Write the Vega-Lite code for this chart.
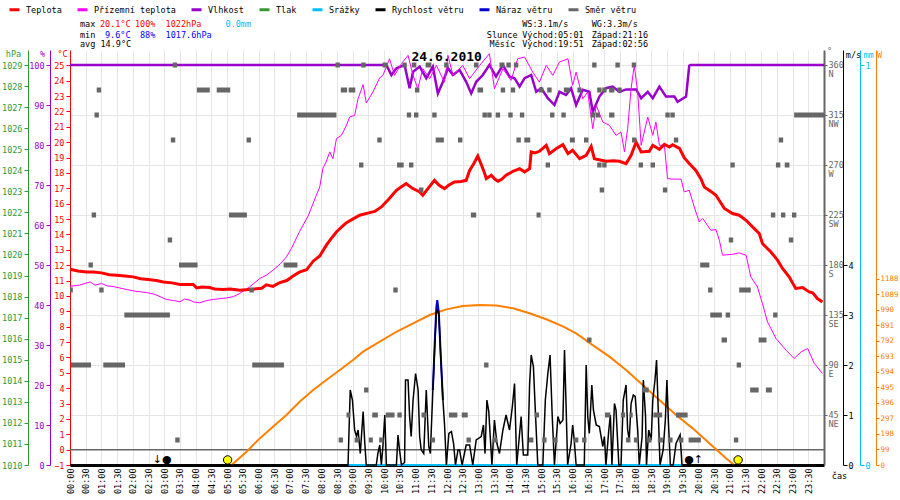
{
  "$schema": "https://vega.github.io/schema/vega-lite/v6.json",
  "width": 754,
  "height": 415,
  "autosize": "none",
  "padding": {"left": 70, "top": 50, "right": 76, "bottom": 35},
  "background": "white",
  "view": {"stroke": null},
  "config": {
    "font": "DejaVu Sans Mono",
    "axis": {"labelFont": "DejaVu Sans Mono", "labelFontSize": 8.5, "titleFont": "DejaVu Sans Mono", "titleFontSize": 8.5, "titleFontWeight": "normal", "tickSize": 4, "grid": false, "labelPadding": 2},
    "legend": {"orient": "none", "legendX": -62, "legendY": -47, "direction": "horizontal", "columns": 8, "symbolType": "stroke", "symbolStrokeWidth": 3, "symbolSize": 100, "labelFont": "DejaVu Sans Mono", "labelFontSize": 8.5, "labelColor": "black", "columnPadding": 9, "labelOffset": 5},
    "text": {"font": "DejaVu Sans Mono", "fontSize": 8.5}
  },
  "datasets": {
    "temp": [
      {"t":0,"c":11.74},{"t":0.25,"c":11.62},{"t":0.53,"c":11.56},{"t":0.75,"c":11.55},{"t":1.0,"c":11.5},{"t":1.25,"c":11.38},{"t":1.48,"c":11.35},{"t":1.75,"c":11.3},{"t":2.01,"c":11.24},{"t":2.25,"c":11.12},{"t":2.49,"c":11.07},{"t":2.75,"c":11.0},{"t":2.97,"c":10.91},{"t":3.25,"c":10.85},{"t":3.5,"c":10.74},{"t":3.92,"c":10.74},{"t":4.03,"c":10.52},{"t":4.2,"c":10.58},{"t":4.45,"c":10.55},{"t":4.6,"c":10.45},{"t":4.87,"c":10.42},{"t":5.1,"c":10.45},{"t":5.41,"c":10.37},{"t":5.6,"c":10.4},{"t":5.83,"c":10.44},{"t":6.1,"c":10.5},{"t":6.25,"c":10.72},{"t":6.46,"c":10.62},{"t":6.68,"c":10.87},{"t":6.9,"c":11.0},{"t":7.1,"c":11.3},{"t":7.3,"c":11.55},{"t":7.53,"c":11.7},{"t":7.74,"c":12.26},{"t":7.95,"c":12.6},{"t":8.16,"c":13.3},{"t":8.3,"c":13.7},{"t":8.48,"c":14.16},{"t":8.65,"c":14.5},{"t":8.8,"c":14.77},{"t":9.0,"c":15.0},{"t":9.22,"c":15.25},{"t":9.54,"c":15.42},{"t":9.7,"c":15.5},{"t":9.91,"c":15.79},{"t":10.15,"c":16.3},{"t":10.39,"c":16.87},{"t":10.55,"c":17.1},{"t":10.7,"c":17.31},{"t":10.9,"c":17.0},{"t":11.13,"c":16.77},{"t":11.23,"c":16.55},{"t":11.4,"c":17.0},{"t":11.6,"c":17.52},{"t":11.75,"c":17.2},{"t":11.92,"c":16.98},{"t":12.05,"c":17.2},{"t":12.24,"c":17.41},{"t":12.45,"c":17.45},{"t":12.61,"c":17.52},{"t":12.72,"c":18.17},{"t":12.85,"c":18.6},{"t":12.98,"c":19.1},{"t":13.1,"c":18.5},{"t":13.2,"c":17.96},{"t":13.25,"c":17.63},{"t":13.41,"c":17.85},{"t":13.52,"c":17.6},{"t":13.62,"c":17.46},{"t":13.75,"c":17.6},{"t":13.88,"c":17.85},{"t":14.1,"c":18.11},{"t":14.31,"c":18.28},{"t":14.47,"c":18.07},{"t":14.63,"c":18.28},{"t":14.68,"c":19.37},{"t":14.8,"c":19.3},{"t":14.94,"c":19.41},{"t":15.05,"c":19.6},{"t":15.16,"c":19.8},{"t":15.26,"c":19.26},{"t":15.47,"c":19.58},{"t":15.69,"c":19.84},{"t":15.85,"c":19.26},{"t":16.0,"c":19.47},{"t":16.22,"c":18.93},{"t":16.43,"c":19.15},{"t":16.59,"c":19.73},{"t":16.69,"c":18.93},{"t":17.06,"c":18.76},{"t":17.3,"c":18.8},{"t":17.49,"c":18.76},{"t":17.7,"c":18.61},{"t":17.86,"c":19.15},{"t":18.02,"c":20.01},{"t":18.18,"c":19.37},{"t":18.44,"c":19.41},{"t":18.55,"c":19.8},{"t":18.76,"c":19.54},{"t":18.92,"c":19.86},{"t":19.08,"c":19.69},{"t":19.18,"c":19.84},{"t":19.4,"c":19.6},{"t":19.55,"c":19.0},{"t":19.71,"c":18.61},{"t":19.92,"c":18.17},{"t":20.08,"c":17.63},{"t":20.19,"c":17.09},{"t":20.4,"c":16.8},{"t":20.56,"c":16.55},{"t":20.83,"c":15.69},{"t":21.09,"c":15.36},{"t":21.3,"c":15.25},{"t":21.52,"c":14.92},{"t":21.78,"c":14.38},{"t":21.94,"c":14.06},{"t":22.04,"c":13.41},{"t":22.31,"c":12.86},{"t":22.52,"c":12.33},{"t":22.68,"c":11.79},{"t":22.89,"c":11.24},{"t":23.1,"c":10.49},{"t":23.32,"c":10.55},{"t":23.53,"c":10.26},{"t":23.64,"c":10.2},{"t":23.79,"c":9.83},{"t":23.95,"c":9.6}
    ],
    "ground": [
      {"t":0,"c":10.63},{"t":0.3,"c":10.7},{"t":0.64,"c":10.91},{"t":0.8,"c":10.7},{"t":1.0,"c":10.81},{"t":1.2,"c":10.65},{"t":1.4,"c":10.6},{"t":1.8,"c":10.42},{"t":2.1,"c":10.3},{"t":2.44,"c":10.22},{"t":2.7,"c":10.1},{"t":3.07,"c":9.77},{"t":3.3,"c":9.7},{"t":3.5,"c":9.62},{"t":3.65,"c":9.8},{"t":3.82,"c":9.72},{"t":3.95,"c":9.6},{"t":4.13,"c":9.55},{"t":4.35,"c":9.7},{"t":4.56,"c":9.77},{"t":4.98,"c":9.87},{"t":5.2,"c":9.95},{"t":5.4,"c":10.16},{"t":5.72,"c":10.59},{"t":6.04,"c":11.13},{"t":6.25,"c":11.35},{"t":6.46,"c":11.67},{"t":6.7,"c":12.1},{"t":6.89,"c":12.54},{"t":7.05,"c":13.1},{"t":7.31,"c":14.2},{"t":7.58,"c":15.2},{"t":7.84,"c":16.55},{"t":7.95,"c":17.09},{"t":8.05,"c":18.3},{"t":8.15,"c":18.71},{"t":8.27,"c":19.37},{"t":8.37,"c":18.93},{"t":8.48,"c":20.23},{"t":8.64,"c":20.45},{"t":8.8,"c":21.1},{"t":8.9,"c":21.64},{"t":9.06,"c":21.75},{"t":9.17,"c":22.83},{"t":9.33,"c":23.75},{"t":9.43,"c":22.55},{"t":9.64,"c":23.26},{"t":9.86,"c":24.2},{"t":9.96,"c":24.35},{"t":10.17,"c":25.43},{"t":10.33,"c":24.35},{"t":10.55,"c":25.11},{"t":10.76,"c":25.65},{"t":10.92,"c":24.35},{"t":11.07,"c":23.48},{"t":11.23,"c":24.78},{"t":11.45,"c":24.13},{"t":11.66,"c":25.0},{"t":11.92,"c":23.91},{"t":12.03,"c":25.65},{"t":12.19,"c":24.35},{"t":12.5,"c":25.0},{"t":12.72,"c":24.13},{"t":13.04,"c":25.0},{"t":13.35,"c":25.76},{"t":13.51,"c":23.48},{"t":13.78,"c":24.78},{"t":14.04,"c":24.02},{"t":14.25,"c":25.43},{"t":14.47,"c":25.54},{"t":14.73,"c":24.56},{"t":14.94,"c":23.91},{"t":15.16,"c":25.0},{"t":15.37,"c":24.35},{"t":15.58,"c":25.22},{"t":15.85,"c":25.43},{"t":16.0,"c":23.7},{"t":16.11,"c":24.56},{"t":16.32,"c":22.83},{"t":16.48,"c":23.26},{"t":16.64,"c":20.88},{"t":16.75,"c":22.4},{"t":16.96,"c":21.31},{"t":17.17,"c":21.1},{"t":17.38,"c":20.45},{"t":17.54,"c":20.66},{"t":17.65,"c":19.37},{"t":17.75,"c":20.88},{"t":17.86,"c":23.48},{"t":17.96,"c":25.0},{"t":18.07,"c":23.26},{"t":18.18,"c":19.8},{"t":18.39,"c":21.64},{"t":18.55,"c":20.45},{"t":18.65,"c":21.31},{"t":18.76,"c":19.8},{"t":18.92,"c":19.8},{"t":19.02,"c":17.63},{"t":19.2,"c":17.6},{"t":19.45,"c":17.6},{"t":19.55,"c":16.77},{"t":19.71,"c":16.87},{"t":19.87,"c":15.79},{"t":20.03,"c":14.81},{"t":20.14,"c":15.04},{"t":20.4,"c":14.27},{"t":20.56,"c":14.32},{"t":20.67,"c":13.62},{"t":20.77,"c":12.65},{"t":21.09,"c":12.71},{"t":21.3,"c":12.8},{"t":21.52,"c":12.65},{"t":21.67,"c":11.24},{"t":21.88,"c":10.59},{"t":22.04,"c":9.51},{"t":22.2,"c":8.31},{"t":22.47,"c":7.24},{"t":22.79,"c":6.47},{"t":23.05,"c":5.93},{"t":23.27,"c":6.36},{"t":23.48,"c":6.58},{"t":23.69,"c":5.61},{"t":23.95,"c":4.96}
    ],
    "hum": [
      {"t":0,"h":100},{"t":10.07,"h":100},{"t":10.23,"h":97.5},{"t":10.39,"h":99.2},{"t":10.65,"h":100},{"t":10.81,"h":94.2},{"t":10.92,"h":98.3},{"t":11.13,"h":99.6},{"t":11.34,"h":96.7},{"t":11.55,"h":99.6},{"t":11.71,"h":92.9},{"t":11.87,"h":95.8},{"t":12.03,"h":99.2},{"t":12.19,"h":97.5},{"t":12.4,"h":98.8},{"t":12.61,"h":95.8},{"t":12.77,"h":92.9},{"t":12.93,"h":95.8},{"t":13.14,"h":97.5},{"t":13.35,"h":100},{"t":13.56,"h":97.1},{"t":13.78,"h":100},{"t":13.99,"h":97.1},{"t":14.15,"h":96.7},{"t":14.31,"h":94.6},{"t":14.47,"h":96.7},{"t":14.68,"h":97.5},{"t":14.84,"h":93.3},{"t":15.0,"h":94.2},{"t":15.21,"h":91.7},{"t":15.42,"h":90.0},{"t":15.58,"h":93.3},{"t":15.79,"h":92.5},{"t":15.95,"h":94.2},{"t":16.11,"h":90.0},{"t":16.32,"h":93.8},{"t":16.53,"h":93.3},{"t":16.64,"h":88.3},{"t":16.85,"h":92.1},{"t":17.06,"h":94.2},{"t":17.27,"h":94.6},{"t":17.49,"h":93.3},{"t":17.7,"h":93.9},{"t":18.02,"h":93.9},{"t":18.18,"h":91.7},{"t":18.39,"h":93.3},{"t":18.55,"h":91.7},{"t":18.76,"h":94.6},{"t":18.97,"h":92.1},{"t":19.24,"h":92.1},{"t":19.34,"h":90.8},{"t":19.61,"h":92.1},{"t":19.71,"h":99.8},{"t":19.75,"h":100},{"t":24,"h":100}
    ],
    "wind": [
      {"t":0,"v":0},{"t":8.85,"v":0},{"t":8.92,"v":1.5},{"t":8.99,"v":1.3},{"t":9.06,"v":0.7},{"t":9.12,"v":0.57},{"t":9.17,"v":0.7},{"t":9.24,"v":0.23},{"t":9.33,"v":1.07},{"t":9.38,"v":0.47},{"t":9.43,"v":0},{"t":9.75,"v":0},{"t":9.8,"v":0.23},{"t":9.86,"v":0.4},{"t":9.91,"v":0},{"t":9.96,"v":0.37},{"t":10.02,"v":1.0},{"t":10.07,"v":0},{"t":10.39,"v":0},{"t":10.44,"v":0.6},{"t":10.49,"v":0.3},{"t":10.55,"v":0},{"t":10.65,"v":0.05},{"t":10.68,"v":1.7},{"t":10.76,"v":1.7},{"t":10.81,"v":0.97},{"t":10.86,"v":0.57},{"t":10.92,"v":1.3},{"t":11.0,"v":1.83},{"t":11.08,"v":1.5},{"t":11.13,"v":0.57},{"t":11.18,"v":0.3},{"t":11.26,"v":0.23},{"t":11.34,"v":1.5},{"t":11.42,"v":0.37},{"t":11.47,"v":0.23},{"t":11.55,"v":1.5},{"t":11.61,"v":2.37},{"t":11.66,"v":3.05},{"t":11.69,"v":3.1},{"t":11.74,"v":3.0},{"t":11.8,"v":2.17},{"t":11.87,"v":1.3},{"t":11.92,"v":0.83},{"t":11.98,"v":0},{"t":12.06,"v":0.63},{"t":12.14,"v":0.67},{"t":12.21,"v":0.43},{"t":12.27,"v":0},{"t":12.35,"v":0.3},{"t":12.4,"v":0.3},{"t":12.48,"v":0},{"t":12.61,"v":0.4},{"t":12.72,"v":0.4},{"t":12.82,"v":0},{"t":12.93,"v":0.5},{"t":13.09,"v":0.57},{"t":13.16,"v":0.8},{"t":13.21,"v":0.23},{"t":13.27,"v":1.3},{"t":13.33,"v":1.07},{"t":13.43,"v":0},{"t":13.51,"v":0.9},{"t":13.59,"v":0.43},{"t":13.67,"v":0.23},{"t":13.78,"v":0.7},{"t":13.88,"v":1.0},{"t":13.99,"v":0.7},{"t":14.08,"v":1.17},{"t":14.15,"v":1.63},{"t":14.22,"v":0},{"t":14.36,"v":0.97},{"t":14.43,"v":0.2},{"t":14.57,"v":0.2},{"t":14.63,"v":1.63},{"t":14.68,"v":2.2},{"t":14.75,"v":1.97},{"t":14.82,"v":0.97},{"t":14.89,"v":0},{"t":15.05,"v":0},{"t":15.13,"v":1.3},{"t":15.21,"v":1.83},{"t":15.28,"v":2.2},{"t":15.35,"v":0.97},{"t":15.42,"v":0},{"t":15.53,"v":0.97},{"t":15.6,"v":0.83},{"t":15.69,"v":0.9},{"t":15.74,"v":2.3},{"t":15.79,"v":1.2},{"t":15.84,"v":0},{"t":15.95,"v":0.43},{"t":16.0,"v":0.8},{"t":16.05,"v":0.5},{"t":16.11,"v":0},{"t":16.37,"v":0},{"t":16.43,"v":2.0},{"t":16.48,"v":0.97},{"t":16.53,"v":0.63},{"t":16.61,"v":1.6},{"t":16.66,"v":1.1},{"t":16.75,"v":0.8},{"t":16.85,"v":0.77},{"t":16.96,"v":0.37},{"t":17.01,"v":0.57},{"t":17.06,"v":0},{"t":17.15,"v":0.7},{"t":17.2,"v":1.0},{"t":17.25,"v":0},{"t":17.33,"v":1.23},{"t":17.38,"v":1.1},{"t":17.47,"v":0},{"t":17.54,"v":0},{"t":17.61,"v":1.3},{"t":17.7,"v":1.6},{"t":17.75,"v":0.7},{"t":17.8,"v":0.5},{"t":17.86,"v":1.23},{"t":17.93,"v":1.4},{"t":17.99,"v":1.37},{"t":18.07,"v":0.7},{"t":18.12,"v":0},{"t":18.21,"v":0.57},{"t":18.25,"v":1.7},{"t":18.32,"v":0.97},{"t":18.35,"v":0},{"t":18.42,"v":0.7},{"t":18.5,"v":0.5},{"t":18.55,"v":1.3},{"t":18.62,"v":1.7},{"t":18.67,"v":2.1},{"t":18.72,"v":1.17},{"t":18.78,"v":0},{"t":18.88,"v":0.3},{"t":18.95,"v":0.9},{"t":19.0,"v":1.7},{"t":19.05,"v":0.83},{"t":19.11,"v":0},{"t":19.2,"v":0},{"t":19.29,"v":0.43},{"t":19.42,"v":0.6},{"t":19.48,"v":0},{"t":24,"v":0}
    ],
    "gust": [
      {"t":11.55,"v":1.5},{"t":11.61,"v":2.45},{"t":11.66,"v":3.15},{"t":11.69,"v":3.3},{"t":11.74,"v":3.05},{"t":11.8,"v":2.2},{"t":11.87,"v":1.3}
    ],
    "rain": [
      {"t":8.85,"mm":0},{"t":19.5,"mm":0}
    ],
    "sun": [
      {"t":5.14,"w":0},{"t":5.62,"w":85},{"t":6.04,"w":170},{"t":6.46,"w":245},{"t":6.89,"w":319},{"t":7.31,"w":404},{"t":7.74,"w":479},{"t":8.16,"w":543},{"t":8.59,"w":607},{"t":9.01,"w":671},{"t":9.33,"w":724},{"t":9.86,"w":788},{"t":10.39,"w":851},{"t":10.92,"w":905},{"t":11.45,"w":958},{"t":11.98,"w":994},{"t":12.5,"w":1016},{"t":13.04,"w":1022},{"t":13.57,"w":1018},{"t":14.1,"w":1001},{"t":14.63,"w":969},{"t":15.16,"w":931},{"t":15.69,"w":885},{"t":16.11,"w":841},{"t":16.64,"w":766},{"t":17.17,"w":692},{"t":17.7,"w":607},{"t":18.23,"w":511},{"t":18.76,"w":415},{"t":19.29,"w":319},{"t":19.82,"w":234},{"t":20.35,"w":139},{"t":20.88,"w":43},{"t":21.14,"w":0}
    ],
    "wdir": [
      {"t":3.27,"t2":3.41,"d":360},{"t":8.45,"t2":8.59,"d":360},{"t":9.27,"t2":9.41,"d":360},{"t":9.95,"t2":10.09,"d":360},{"t":10.58,"t2":10.72,"d":360},{"t":10.88,"t2":11.02,"d":360},{"t":11.32,"t2":11.5,"d":360},{"t":11.91,"t2":12.05,"d":360},{"t":12.86,"t2":13.0,"d":360},{"t":13.67,"t2":13.83,"d":360},{"t":13.89,"t2":14.03,"d":360},{"t":14.13,"t2":14.27,"d":360},{"t":16.62,"t2":16.76,"d":360},{"t":17.36,"t2":17.5,"d":360},{"t":17.88,"t2":18.02,"d":360},
      {"t":0.85,"t2":0.99,"d":337.5},{"t":4.04,"t2":4.45,"d":337.5},{"t":4.67,"t2":5.1,"d":337.5},{"t":8.62,"t2":8.82,"d":337.5},{"t":8.87,"t2":9.08,"d":337.5},{"t":10.98,"t2":11.12,"d":337.5},{"t":12.97,"t2":13.15,"d":337.5},{"t":13.71,"t2":13.85,"d":337.5},{"t":14.03,"t2":14.17,"d":337.5},{"t":14.93,"t2":15.07,"d":337.5},{"t":15.19,"t2":15.33,"d":337.5},{"t":15.72,"t2":15.9,"d":337.5},{"t":16.15,"t2":16.28,"d":337.5},{"t":16.78,"t2":16.92,"d":337.5},{"t":16.94,"t2":17.08,"d":337.5},{"t":17.16,"t2":17.33,"d":337.5},{"t":17.42,"t2":17.56,"d":337.5},
      {"t":0.78,"t2":0.92,"d":315},{"t":7.23,"t2":8.48,"d":315},{"t":10.72,"t2":10.86,"d":315},{"t":10.95,"t2":11.09,"d":315},{"t":11.53,"t2":11.67,"d":315},{"t":13.13,"t2":13.27,"d":315},{"t":13.28,"t2":13.42,"d":315},{"t":13.55,"t2":13.69,"d":315},{"t":13.95,"t2":14.09,"d":315},{"t":14.32,"t2":14.46,"d":315},{"t":15.28,"t2":15.42,"d":315},{"t":15.64,"t2":15.78,"d":315},{"t":16.57,"t2":16.71,"d":315},{"t":16.73,"t2":16.87,"d":315},{"t":17.16,"t2":17.33,"d":315},{"t":18.95,"t2":19.09,"d":315},{"t":19.11,"t2":19.25,"d":315},{"t":23.05,"t2":24.0,"d":315},
      {"t":3.21,"t2":3.35,"d":292.5},{"t":5.62,"t2":5.76,"d":292.5},{"t":9.78,"t2":9.92,"d":292.5},{"t":11.64,"t2":11.9,"d":292.5},{"t":12.35,"t2":12.49,"d":292.5},{"t":14.21,"t2":14.35,"d":292.5},{"t":14.46,"t2":14.65,"d":292.5},{"t":15.91,"t2":16.07,"d":292.5},{"t":16.36,"t2":16.5,"d":292.5},{"t":17.89,"t2":18.03,"d":292.5},{"t":19.22,"t2":19.36,"d":292.5},{"t":22.56,"t2":22.7,"d":292.5},
      {"t":9.2,"t2":9.34,"d":270},{"t":10.41,"t2":10.62,"d":270},{"t":10.79,"t2":10.93,"d":270},{"t":15.14,"t2":15.28,"d":270},{"t":16.78,"t2":16.92,"d":270},{"t":16.94,"t2":17.08,"d":270},{"t":18.1,"t2":18.24,"d":270},{"t":18.48,"t2":18.62,"d":270},{"t":21.02,"t2":21.16,"d":270},{"t":22.47,"t2":22.61,"d":270},{"t":22.75,"t2":22.9,"d":270},
      {"t":11.11,"t2":11.25,"d":247.5},{"t":16.86,"t2":17.0,"d":247.5},{"t":18.87,"t2":19.01,"d":247.5},
      {"t":0.69,"t2":0.83,"d":225},{"t":5.06,"t2":5.63,"d":225},{"t":12.76,"t2":12.93,"d":225},{"t":14.85,"t2":14.98,"d":225},{"t":22.31,"t2":22.45,"d":225},{"t":22.63,"t2":22.77,"d":225},{"t":22.98,"t2":23.12,"d":225},
      {"t":3.11,"t2":3.25,"d":202.5},{"t":20.97,"t2":21.11,"d":202.5},{"t":22.88,"t2":23.02,"d":202.5},
      {"t":0.59,"t2":0.73,"d":180},{"t":3.47,"t2":4.06,"d":180},{"t":6.8,"t2":7.24,"d":180},{"t":20.06,"t2":20.35,"d":180},
      {"t":0.0,"t2":0.09,"d":157.5},{"t":0.93,"t2":1.07,"d":157.5},{"t":5.71,"t2":5.85,"d":157.5},{"t":10.29,"t2":10.43,"d":157.5},{"t":20.31,"t2":20.45,"d":157.5},{"t":21.3,"t2":21.67,"d":157.5},
      {"t":1.73,"t2":3.18,"d":135},{"t":20.38,"t2":20.75,"d":135},{"t":20.87,"t2":21.01,"d":135},{"t":22.38,"t2":22.52,"d":135},
      {"t":16.46,"t2":16.6,"d":112.5},{"t":20.74,"t2":20.91,"d":112.5},{"t":21.92,"t2":22.17,"d":112.5},
      {"t":0.03,"t2":0.67,"d":90},{"t":1.06,"t2":1.75,"d":90},{"t":5.8,"t2":6.81,"d":90},{"t":13.18,"t2":13.32,"d":90},{"t":21.22,"t2":21.36,"d":90},
      {"t":9.36,"t2":9.5,"d":67.5},{"t":18.23,"t2":18.42,"d":67.5},{"t":21.65,"t2":21.92,"d":67.5},{"t":22.15,"t2":22.34,"d":67.5},
      {"t":8.8,"t2":8.92,"d":45},{"t":9.62,"t2":9.8,"d":45},{"t":10.05,"t2":10.33,"d":45},{"t":10.42,"t2":10.56,"d":45},{"t":11.19,"t2":11.33,"d":45},{"t":12.06,"t2":12.33,"d":45},{"t":12.47,"t2":12.66,"d":45},{"t":14.79,"t2":14.93,"d":45},{"t":17.03,"t2":17.2,"d":45},{"t":17.54,"t2":17.67,"d":45},{"t":17.81,"t2":17.91,"d":45},{"t":18.57,"t2":18.85,"d":45},{"t":19.29,"t2":19.66,"d":45},
      {"t":3.35,"t2":3.49,"d":22.5},{"t":8.55,"t2":8.69,"d":22.5},{"t":9.06,"t2":9.2,"d":22.5},{"t":9.51,"t2":9.64,"d":22.5},{"t":9.84,"t2":9.98,"d":22.5},{"t":11.48,"t2":11.62,"d":22.5},{"t":12.62,"t2":12.76,"d":22.5},{"t":13.46,"t2":13.6,"d":22.5},{"t":14.61,"t2":14.75,"d":22.5},{"t":15.03,"t2":15.17,"d":22.5},{"t":15.38,"t2":15.52,"d":22.5},{"t":16.04,"t2":16.18,"d":22.5},{"t":16.3,"t2":16.44,"d":22.5},{"t":17.7,"t2":17.84,"d":22.5},{"t":17.95,"t2":18.09,"d":22.5},{"t":18.37,"t2":18.51,"d":22.5},{"t":18.71,"t2":18.87,"d":22.5},{"t":19.04,"t2":19.18,"d":22.5},{"t":19.38,"t2":19.52,"d":22.5},{"t":19.69,"t2":20.08,"d":22.5},{"t":21.13,"t2":21.27,"d":22.5}
    ],
    "notes": [
      {"t":0.318,"y":27.66,"txt":"max","k":"plain"},
      {"t":0.954,"y":27.66,"txt":"20.1°C","k":"max"},
      {"t":2.067,"y":27.66,"txt":"100%","k":"max"},
      {"t":3.043,"y":27.66,"txt":"1022hPa","k":"max"},
      {"t":4.95,"y":27.66,"txt":"0.0mm","k":"rain"},
      {"t":0.318,"y":27.0,"txt":"min","k":"plain"},
      {"t":1.113,"y":27.0,"txt":"9.6°C","k":"min"},
      {"t":2.226,"y":27.0,"txt":"88%","k":"min"},
      {"t":3.043,"y":27.0,"txt":"1017.6hPa","k":"min"},
      {"t":0.318,"y":26.36,"txt":"avg 14.9°C","k":"plain"},
      {"t":14.394,"y":27.66,"txt":"WS:3.1m/s","k":"plain"},
      {"t":16.607,"y":27.66,"txt":"WG:3.3m/s","k":"plain"},
      {"t":13.269,"y":27.0,"txt":"Slunce","k":"plain"},
      {"t":14.394,"y":27.0,"txt":"Východ:05:01","k":"plain"},
      {"t":16.607,"y":27.0,"txt":"Západ:21:16","k":"plain"},
      {"t":13.355,"y":26.36,"txt":"Měsíc","k":"plain"},
      {"t":14.394,"y":26.36,"txt":"Východ:19:51","k":"plain"},
      {"t":16.607,"y":26.36,"txt":"Západ:02:56","k":"plain"},
      {"t":11.99,"y":25.52,"txt":"24.6.2010","k":"title"}
    ],
    "sunevents": [{"t":5.017,"ev":"východ"},{"t":21.267,"ev":"západ"}],
    "moonevents": [{"t":2.933,"sym":"↓●"},{"t":19.85,"sym":"●↑"}]
  },
  "encoding": {
    "x": {
      "field": "t", "type": "quantitative",
      "scale": {"domain": [0, 24], "nice": false, "zero": false},
      "axis": {
        "values": [0,0.5,1,1.5,2,2.5,3,3.5,4,4.5,5,5.5,6,6.5,7,7.5,8,8.5,9,9.5,10,10.5,11,11.5,12,12.5,13,13.5,14,14.5,15,15.5,16,16.5,17,17.5,18,18.5,19,19.5,20,20.5,21,21.5,22,22.5,23,23.5],
        "labelExpr": "(datum.value < 10 ? '0' : '') + floor(datum.value) + ':' + (datum.value % 1 ? '30' : '00')",
        "labelAngle": -90, "labelAlign": "right", "labelBaseline": "middle", "labelPadding": 3, "labelColor": "black",
        "grid": true, "gridColor": "#e6e6e6", "ticks": false,
        "domainColor": "black", "domainWidth": 3,
        "title": "čas", "titleAngle": 0, "titleX": 769, "titleY": 10, "titleAlign": "center", "titleBaseline": "middle", "titleColor": "black"
      }
    }
  },
  "layer": [
    {
      "data": {"name": "wdir"},
      "mark": {"type": "rule", "strokeWidth": 0, "opacity": 0},
      "encoding": {
        "x2": {"field": "t2"},
        "y": {"field": "d", "type": "quantitative", "scale": {"domain": [0, 373.5], "nice": false, "zero": false},
          "axis": {"orient": "right", "values": [45,90,135,180,225,270,315,360], "grid": true, "gridColor": "#e6e6e6",
            "domainColor": "#666666", "domainWidth": 2, "tickColor": "#666666", "labelColor": "#666666",
            "labelExpr": "[datum.label, ['N','NE','E','SE','S','SW','W','NW','N'][datum.value / 45]]",
            "labelBaseline": "top", "labelOffset": -5, "labelLineHeight": 9, "labelAlign": "left", "labelPadding": 1, "tickSize": 3,
            "title": "°", "titleAngle": 0, "titleX": 5, "titleY": 0, "titleAlign": "center", "titleBaseline": "middle", "titleColor": "#666666"}}
      }
    },
    {
      "data": {"values": [{"t": 0, "t2": 24}]},
      "mark": {"type": "rule", "color": "#666666", "strokeWidth": 1.5},
      "encoding": {
        "x2": {"field": "t2"},
        "y": {"datum": 0, "type": "quantitative", "scale": {"domain": [-1, 26], "nice": false, "zero": false}, "axis": null}
      }
    },
    {
      "data": {"values": []},
      "mark": {"type": "line", "strokeWidth": 2},
      "encoding": {
        "y": {"field": "p", "type": "quantitative", "scale": {"domain": [1010, 1029.7125], "nice": false, "zero": false},
          "axis": {"orient": "left", "offset": 42, "format": "d", "values": [1010,1011,1012,1013,1014,1015,1016,1017,1018,1019,1020,1021,1022,1023,1024,1025,1026,1027,1028,1029],
            "domainColor": "#339933", "tickColor": "#339933", "labelColor": "#339933",
            "title": "hPa", "titleAngle": 0, "titleX": -15, "titleY": 3, "titleAlign": "center", "titleBaseline": "middle", "titleColor": "#339933"}},
        "color": {"datum": "Tlak", "scale": {"domain": ["Teplota","Přízemní teplota","Vlhkost","Tlak","Srážky","Rychlost větru","Náraz větru","Směr větru"], "range": ["#ff0000","#ff00ff","#9900cc","#339933","#00bfff","#000000","#0000cc","#666666"]}, "legend": {"title": null}}
      }
    },
    {
      "data": {"name": "sun"},
      "mark": {"type": "line", "color": "#ff8000", "strokeWidth": 2},
      "encoding": {
        "y": {"field": "w", "type": "quantitative", "scale": {"domain": [0, 2650.6], "nice": false, "zero": false},
          "axis": {"orient": "right", "offset": 52, "format": "d", "values": [0,99,198,297,396,495,594,693,792,891,990,1089,1188],
            "domainColor": "#ff8000", "tickColor": "#ff8000", "labelColor": "#ff8000", "labelPadding": 1, "labelFontSize": 7.5, "tickSize": 3,
            "title": "W", "titleAngle": 0, "titleX": 3, "titleY": 4, "titleAlign": "center", "titleBaseline": "middle", "titleColor": "#ff8000"}}
      }
    },
    {
      "data": {"name": "hum"},
      "mark": {"type": "line", "strokeWidth": 2.5},
      "encoding": {
        "y": {"field": "h", "type": "quantitative", "scale": {"domain": [0, 103.75], "nice": false, "zero": false},
          "axis": {"orient": "left", "offset": 20, "format": "d", "values": [0,10,20,30,40,50,60,70,80,90,100],
            "domainColor": "#9900cc", "tickColor": "#9900cc", "labelColor": "#9900cc",
            "title": "%", "titleAngle": 0, "titleX": -8, "titleY": 3, "titleAlign": "center", "titleBaseline": "middle", "titleColor": "#9900cc"}},
        "color": {"datum": "Vlhkost", "scale": {"domain": ["Teplota","Přízemní teplota","Vlhkost","Tlak","Srážky","Rychlost větru","Náraz větru","Směr větru"], "range": ["#ff0000","#ff00ff","#9900cc","#339933","#00bfff","#000000","#0000cc","#666666"]}, "legend": {"title": null}}
      }
    },
    {
      "data": {"name": "ground"},
      "mark": {"type": "line", "strokeWidth": 1},
      "encoding": {
        "y": {"field": "c", "type": "quantitative", "scale": {"domain": [-1, 26], "nice": false, "zero": false}, "axis": null},
        "color": {"datum": "Přízemní teplota", "scale": {"domain": ["Teplota","Přízemní teplota","Vlhkost","Tlak","Srážky","Rychlost větru","Náraz větru","Směr větru"], "range": ["#ff0000","#ff00ff","#9900cc","#339933","#00bfff","#000000","#0000cc","#666666"]}, "legend": {"title": null}}
      }
    },
    {
      "data": {"name": "temp"},
      "mark": {"type": "line", "strokeWidth": 3},
      "encoding": {
        "y": {"field": "c", "type": "quantitative", "scale": {"domain": [-1, 26], "nice": false, "zero": false},
          "axis": {"orient": "left", "format": "d", "values": [-1,0,1,2,3,4,5,6,7,8,9,10,11,12,13,14,15,16,17,18,19,20,21,22,23,24,25],
            "domainColor": "#ff0000", "tickColor": "#ff0000", "labelColor": "#ff0000",
            "title": "°C", "titleAngle": 0, "titleX": -8, "titleY": 3, "titleAlign": "center", "titleBaseline": "middle", "titleColor": "#ff0000"}},
        "color": {"datum": "Teplota", "scale": {"domain": ["Teplota","Přízemní teplota","Vlhkost","Tlak","Srážky","Rychlost větru","Náraz větru","Směr větru"], "range": ["#ff0000","#ff00ff","#9900cc","#339933","#00bfff","#000000","#0000cc","#666666"]}, "legend": {"title": null}}
      }
    },
    {
      "data": {"name": "rain"},
      "mark": {"type": "line", "strokeWidth": 2},
      "encoding": {
        "y": {"field": "mm", "type": "quantitative", "scale": {"domain": [0, 1.0375], "nice": false, "zero": false},
          "axis": {"orient": "right", "offset": 36, "format": "d", "values": [0, 1],
            "domainColor": "#00bfff", "tickColor": "#00bfff", "labelColor": "#00bfff", "labelPadding": 1,
            "title": "mm", "titleAngle": 0, "titleX": 8, "titleY": 4, "titleAlign": "center", "titleBaseline": "middle", "titleColor": "#00bfff"}},
        "color": {"datum": "Srážky", "scale": {"domain": ["Teplota","Přízemní teplota","Vlhkost","Tlak","Srážky","Rychlost větru","Náraz větru","Směr větru"], "range": ["#ff0000","#ff00ff","#9900cc","#339933","#00bfff","#000000","#0000cc","#666666"]}, "legend": {"title": null}}
      }
    },
    {
      "data": {"name": "gust"},
      "mark": {"type": "line", "strokeWidth": 2},
      "encoding": {
        "y": {"field": "v", "type": "quantitative", "scale": {"domain": [0, 8.3], "nice": false, "zero": false}, "axis": null},
        "color": {"datum": "Náraz větru", "scale": {"domain": ["Teplota","Přízemní teplota","Vlhkost","Tlak","Srážky","Rychlost větru","Náraz větru","Směr větru"], "range": ["#ff0000","#ff00ff","#9900cc","#339933","#00bfff","#000000","#0000cc","#666666"]}, "legend": {"title": null}}
      }
    },
    {
      "data": {"name": "wind"},
      "mark": {"type": "line", "strokeWidth": 1.5},
      "encoding": {
        "y": {"field": "v", "type": "quantitative", "scale": {"domain": [0, 8.3], "nice": false, "zero": false},
          "axis": {"orient": "right", "offset": 19, "format": "d", "values": [0,1,2,3,4],
            "domainColor": "black", "tickColor": "black", "labelColor": "black", "labelPadding": 1,
            "title": "m/s", "titleAngle": 0, "titleX": 10, "titleY": 4, "titleAlign": "center", "titleBaseline": "middle", "titleColor": "black"}},
        "color": {"datum": "Rychlost větru", "scale": {"domain": ["Teplota","Přízemní teplota","Vlhkost","Tlak","Srážky","Rychlost větru","Náraz větru","Směr větru"], "range": ["#ff0000","#ff00ff","#9900cc","#339933","#00bfff","#000000","#0000cc","#666666"]}, "legend": {"title": null}}
      }
    },
    {
      "data": {"name": "wdir"},
      "mark": {"type": "rule", "strokeWidth": 5, "strokeCap": "butt"},
      "encoding": {
        "x2": {"field": "t2"},
        "y": {"field": "d", "type": "quantitative", "scale": {"domain": [0, 373.5], "nice": false, "zero": false}, "axis": null},
        "color": {"datum": "Směr větru", "scale": {"domain": ["Teplota","Přízemní teplota","Vlhkost","Tlak","Srážky","Rychlost větru","Náraz větru","Směr větru"], "range": ["#ff0000","#ff00ff","#9900cc","#339933","#00bfff","#000000","#0000cc","#666666"]}, "legend": {"title": null}}
      }
    },
    {
      "data": {"name": "sunevents"},
      "mark": {"type": "point", "filled": true, "fill": "#ffff00", "stroke": "black", "strokeWidth": 1, "size": 70, "opacity": 1},
      "encoding": {
        "y": {"datum": -0.67, "type": "quantitative", "scale": {"domain": [-1, 26], "nice": false, "zero": false}, "axis": null}
      }
    },
    {
      "data": {"name": "moonevents"},
      "mark": {"type": "text", "align": "center", "baseline": "middle", "fontSize": 11, "font": "DejaVu Sans", "color": "black"},
      "encoding": {
        "y": {"datum": -0.67, "type": "quantitative", "scale": {"domain": [-1, 26], "nice": false, "zero": false}, "axis": null},
        "text": {"field": "sym"}
      }
    },
    {
      "data": {"name": "notes"},
      "transform": [{"filter": "datum.k == 'plain'"}],
      "mark": {"type": "text", "align": "left", "baseline": "middle", "color": "black"},
      "encoding": {
        "y": {"field": "y", "type": "quantitative", "scale": {"domain": [-1, 26], "nice": false, "zero": false}, "axis": null},
        "text": {"field": "txt"}
      }
    },
    {
      "data": {"name": "notes"},
      "transform": [{"filter": "datum.k == 'max'"}],
      "mark": {"type": "text", "align": "left", "baseline": "middle", "color": "#ff0000"},
      "encoding": {
        "y": {"field": "y", "type": "quantitative", "scale": {"domain": [-1, 26], "nice": false, "zero": false}, "axis": null},
        "text": {"field": "txt"}
      }
    },
    {
      "data": {"name": "notes"},
      "transform": [{"filter": "datum.k == 'min'"}],
      "mark": {"type": "text", "align": "left", "baseline": "middle", "color": "#0000ff"},
      "encoding": {
        "y": {"field": "y", "type": "quantitative", "scale": {"domain": [-1, 26], "nice": false, "zero": false}, "axis": null},
        "text": {"field": "txt"}
      }
    },
    {
      "data": {"name": "notes"},
      "transform": [{"filter": "datum.k == 'rain'"}],
      "mark": {"type": "text", "align": "left", "baseline": "middle", "color": "#00bfff"},
      "encoding": {
        "y": {"field": "y", "type": "quantitative", "scale": {"domain": [-1, 26], "nice": false, "zero": false}, "axis": null},
        "text": {"field": "txt"}
      }
    },
    {
      "data": {"name": "notes"},
      "transform": [{"filter": "datum.k == 'title'"}],
      "mark": {"type": "text", "align": "center", "baseline": "middle", "color": "black", "fontSize": 13, "fontWeight": "bold"},
      "encoding": {
        "y": {"field": "y", "type": "quantitative", "scale": {"domain": [-1, 26], "nice": false, "zero": false}, "axis": null},
        "text": {"field": "txt"}
      }
    }
  ],
  "resolve": {"scale": {"y": "independent"}, "axis": {"y": "independent"}}
}
